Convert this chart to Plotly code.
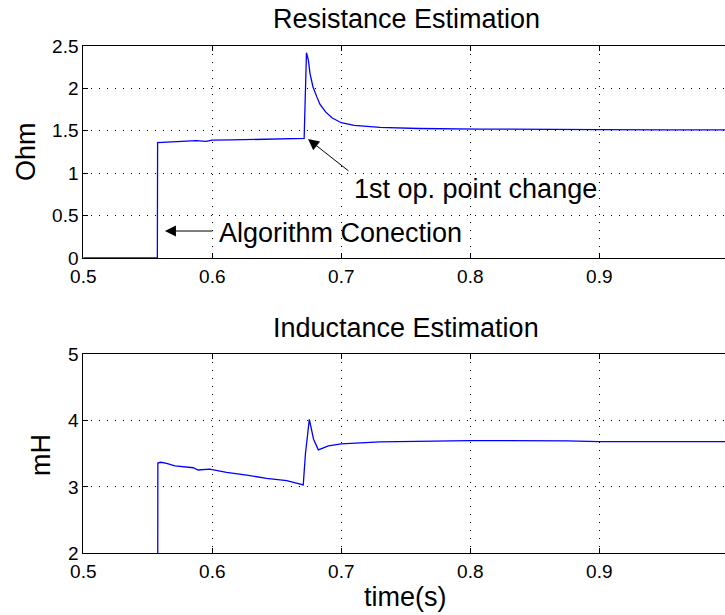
import plotly.graph_objects as go

# ---- data ----
t_res = [0.5, 0.5574, 0.5576, 0.565, 0.575, 0.5875, 0.595, 0.600, 0.615, 0.630, 0.645, 0.660, 0.6712,
         0.6730, 0.6745, 0.6757, 0.678, 0.681, 0.6835, 0.688, 0.693, 0.700, 0.710, 0.730, 0.760,
         0.807, 0.850, 0.875, 0.900, 0.950, 1.0]
r_ohm = [0.0, 0.0, 1.36, 1.365, 1.375, 1.385, 1.375, 1.39, 1.392, 1.395, 1.40, 1.405, 1.41,
         2.42, 2.33, 2.18, 2.02, 1.90, 1.81, 1.72, 1.65, 1.595, 1.565, 1.54, 1.527,
         1.52, 1.515, 1.51, 1.515, 1.512, 1.512]

t_ind = [0.5, 0.5576, 0.5578, 0.5600, 0.5646, 0.571, 0.5853, 0.589, 0.598, 0.611, 0.6267, 0.642,
         0.6577, 0.6705, 0.6722, 0.6752, 0.6785, 0.6822, 0.690, 0.700, 0.730, 0.800, 0.875, 0.900,
         0.950, 1.0]
l_mh = [0.0, 0.0, 3.36, 3.372, 3.357, 3.317, 3.29, 3.256, 3.27, 3.22, 3.18, 3.13,
        3.095, 3.03, 3.5, 4.02, 3.72, 3.56, 3.62, 3.65, 3.68, 3.70, 3.695, 3.683,
        3.685, 3.685]

x_ticks = [0.5, 0.6, 0.7, 0.8, 0.9]
x_ticktext = ["0.5", "0.6", "0.7", "0.8", "0.9"]
y1_ticks = [0, 0.5, 1, 1.5, 2, 2.5]
y1_ticktext = ["0", "0.5", "1", "1.5", "2", "2.5"]
y2_ticks = [2, 3, 4, 5]
y2_ticktext = ["2", "3", "4", "5"]

W, H = 725, 615
FONT = "Liberation Sans, Arial, Helvetica, sans-serif"
BIG = 27
TICK = 19

def py(px):
    return 1 - px / H

x_left = 83.3 / W
x_end = 0.5 + (W - 83.3) / 1290.0

fig = go.Figure()
fig.add_trace(go.Scatter(x=t_res, y=r_ohm, mode="lines", line=dict(color="#0000ff", width=1.3),
                         xaxis="x", yaxis="y", showlegend=False))
fig.add_trace(go.Scatter(x=t_ind, y=l_mh, mode="lines", line=dict(color="#0000ff", width=1.3),
                         xaxis="x2", yaxis="y2", showlegend=False))

axcommon = dict(showline=True, linecolor="black", linewidth=1, ticks="inside", ticklen=5,
                tickcolor="black", showgrid=True, gridcolor="black", gridwidth=1,
                griddash="1px,7px", zeroline=False, automargin=False,
                tickfont=dict(family=FONT, size=TICK, color="black"))

fig.update_layout(
    width=W, height=H, margin=dict(l=0, r=0, t=0, b=0, autoexpand=False),
    paper_bgcolor="white", plot_bgcolor="white",
    xaxis=dict(domain=[x_left, 1], range=[0.5, x_end], anchor="y", tickvals=x_ticks,
               ticktext=x_ticktext, mirror="ticks", ticklabelstandoff=1, **axcommon),
    yaxis=dict(domain=[py(258), py(46)], range=[0, 2.5], anchor="x", tickvals=y1_ticks,
               ticktext=y1_ticktext, mirror=False, **axcommon),
    xaxis2=dict(domain=[x_left, 1], range=[0.5, x_end], anchor="y2", tickvals=x_ticks,
                ticktext=x_ticktext, mirror="ticks", ticklabelstandoff=1, **axcommon),
    yaxis2=dict(domain=[py(553.3), py(354.3)], range=[2, 5], anchor="x2", tickvals=y2_ticks,
                ticktext=y2_ticktext, mirror=False, **axcommon),
)

bigfont = dict(family=FONT, size=BIG, color="black")
ann = []
# titles
ann.append(dict(text="Resistance Estimation", x=406 / W, y=py(19), xref="paper", yref="paper",
                xanchor="center", yanchor="middle", showarrow=False, font=bigfont))
ann.append(dict(text="Inductance Estimation", x=406 / W, y=py(328), xref="paper", yref="paper",
                xanchor="center", yanchor="middle", showarrow=False, font=bigfont))
# axis labels
ann.append(dict(text="Ohm", x=26 / W, y=py(152), xref="paper", yref="paper", textangle=-90,
                xanchor="center", yanchor="middle", showarrow=False, font=bigfont))
ann.append(dict(text="mH", x=41 / W, y=py(455), xref="paper", yref="paper", textangle=-90,
                xanchor="center", yanchor="middle", showarrow=False, font=bigfont))
ann.append(dict(text="time(s)", x=405 / W, y=py(597), xref="paper", yref="paper",
                xanchor="center", yanchor="middle", showarrow=False, font=bigfont))
# arrows
ann.append(dict(text="", x=0.5633, y=0.318, ax=0.6013, ay=0.318, xref="x", yref="y",
                axref="x", ayref="y", showarrow=True, arrowhead=2, arrowsize=2.2,
                arrowwidth=1, arrowcolor="black"))
ann.append(dict(text="Algorithm Conection", x=0.6036, y=0.30, xref="x", yref="y",
                xanchor="left", yanchor="middle", showarrow=False, font=bigfont))
ann.append(dict(text="", x=0.6742, y=1.403, ax=0.7067, ay=1.014, xref="x", yref="y",
                axref="x", ayref="y", showarrow=True, arrowhead=2, arrowsize=2.2,
                arrowwidth=1, arrowcolor="black"))
ann.append(dict(text="1st op. point change", x=0.7080, y=0.815, xref="x", yref="y",
                xanchor="left", yanchor="middle", showarrow=False, font=bigfont))
fig.update_layout(annotations=ann)

fig.write_html("out.html")
